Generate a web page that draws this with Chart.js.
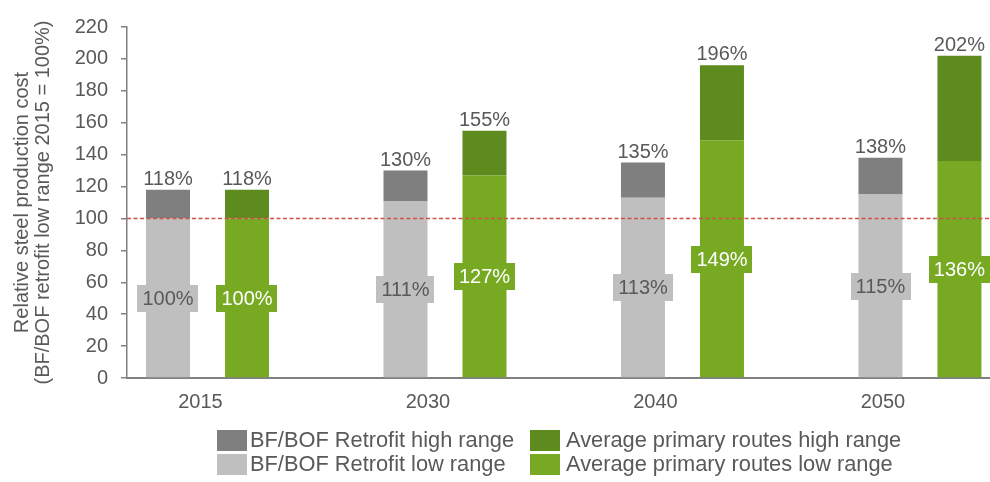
<!DOCTYPE html>
<html><head><meta charset="utf-8">
<script src="https://cdn.jsdelivr.net/npm/chart.js@4/dist/chart.umd.min.js"></script>
<style>
html,body{margin:0;padding:0;background:#fff;overflow:hidden}
#wrap{position:relative;width:990px;height:482px}
#legend{position:absolute;left:0;top:0;width:990px;height:482px;pointer-events:none;font-family:"Liberation Sans",Arial,sans-serif;font-size:21.8px;color:#595959}
.item{position:absolute;display:flex;align-items:center;white-space:nowrap;height:22px}
.sw{width:30px;height:21px;flex:none}
</style></head>
<body><div id="wrap"><canvas id="c"></canvas><div id="legend"></div></div>
<script>
// ---- data ----
const CATEGORIES = ['2015', '2030', '2040', '2050'];
const BF_LOW   = [100, 111, 113, 115];   // BF/BOF Retrofit low range (%)
const BF_HIGH  = [118, 130, 135, 138];   // BF/BOF Retrofit high range (%)
const AVG_LOW  = [100, 127, 149, 136];   // Average primary routes low range (%)
const AVG_HIGH = [118, 155, 196, 202];   // Average primary routes high range (%)
const Y_TICKS  = [0, 20, 40, 60, 80, 100, 120, 140, 160, 180, 200, 220];
const REFERENCE = 100;
const SERIES_NAMES = ['BF/BOF Retrofit low range', 'BF/BOF Retrofit high range',
                      'Average primary routes low range', 'Average primary routes high range'];

const COLORS = { bfLow: '#bfbfbf', bfHigh: '#7f7f7f', avgLow: '#77aa22', avgHigh: '#5e8b1d' };
const TEXT = '#595959';
const FONT = '"Liberation Sans", Arial, sans-serif';

const pts = arr => arr.map((v, i) => ({ x: i, y: v }));
const diff = (hi, lo) => hi.map((v, i) => v - lo[i]);

const datasets = [
  { label: SERIES_NAMES[0], data: pts(BF_LOW), stack: 'bf', backgroundColor: COLORS.bfLow },
  { label: SERIES_NAMES[1], data: pts(diff(BF_HIGH, BF_LOW)), stack: 'bf', backgroundColor: COLORS.bfHigh },
  { label: SERIES_NAMES[2], data: pts(AVG_LOW), stack: 'avg', backgroundColor: COLORS.avgLow },
  { label: SERIES_NAMES[3], data: pts(diff(AVG_HIGH, AVG_LOW)), stack: 'avg', backgroundColor: COLORS.avgHigh }
];

const X_MIN = -0.339, X_MAX = 3.295;
const LABEL_SHIFT = i => i * 0.958 - 0.03; // where the year labels sit in the reference

const refLine = {
  id: 'refLine',
  afterDatasetsDraw(chart) {
    const { ctx, chartArea, scales } = chart;
    const y = Math.round(scales.y.getPixelForValue(REFERENCE)) + 0.5;
    ctx.save();
    ctx.strokeStyle = '#d0504a';
    ctx.lineWidth = 1.3;
    ctx.setLineDash([4, 2.5]);
    ctx.beginPath();
    ctx.moveTo(chartArea.left, y);
    ctx.lineTo(chartArea.right, y);
    ctx.stroke();
    ctx.restore();
  }
};

const valueLabels = {
  id: 'valueLabels',
  afterDatasetsDraw(chart) {
    const ctx = chart.ctx, ys = chart.scales.y;
    ctx.save();
    ctx.font = '20px ' + FONT;
    ctx.textAlign = 'center';
    const groups = [
      { idx: 0, low: BF_LOW, high: BF_HIGH, box: COLORS.bfLow, txt: TEXT },
      { idx: 2, low: AVG_LOW, high: AVG_HIGH, box: COLORS.avgLow, txt: '#ffffff' }
    ];
    groups.forEach(g => {
      chart.getDatasetMeta(g.idx).data.forEach((bar, i) => {
        const x = bar.x;
        ctx.fillStyle = TEXT;
        ctx.textBaseline = 'alphabetic';
        ctx.fillText(g.high[i] + '%', x, ys.getPixelForValue(g.high[i]) - 5);
        const t = g.low[i] + '%';
        const cy = ys.getPixelForValue(g.low[i] / 2);
        const w = ctx.measureText(t).width + 10;
        ctx.fillStyle = g.box;
        ctx.fillRect(Math.round(x - w / 2), Math.round(cy - 13.5), Math.round(w), 27);
        ctx.fillStyle = g.txt;
        ctx.textBaseline = 'middle';
        ctx.fillText(t, x, cy + 1);
      });
    });
    ctx.restore();
  }
};

new Chart(document.getElementById('c'), {
  type: 'bar',
  data: { datasets },
  options: {
    responsive: true,
    maintainAspectRatio: false,
    animation: false,
    categoryPercentage: 0.6653,
    barPercentage: 0.557,
    layout: { padding: { top: 27, left: 0, right: 0, bottom: 0 } },
    plugins: { legend: { display: false }, tooltip: { enabled: false } },
    scales: {
      x: {
        type: 'linear', display: false, offset: false, min: X_MIN, max: X_MAX,
        grid: { offset: false },
        afterBuildTicks: s => { s.ticks = CATEGORIES.map((c, i) => ({ value: i })); }
      },
      x2: {
        type: 'linear', position: 'bottom', offset: false, min: X_MIN, max: X_MAX,
        grid: { display: false, offset: false },
        border: { display: true, color: '#808080', width: 2 },
        afterBuildTicks: s => { s.ticks = CATEGORIES.map((c, i) => ({ value: LABEL_SHIFT(i) })); },
        ticks: {
          autoSkip: false, maxRotation: 0, padding: 4,
          color: TEXT, font: { family: FONT, size: 20 },
          callback: (v, i) => CATEGORIES[i]
        },
        afterFit: s => { s.height = 104; }
      },
      y: {
        stacked: true, min: 0, max: 220,
        afterBuildTicks: s => { s.ticks = Y_TICKS.map(v => ({ value: v })); },
        grid: { drawOnChartArea: false, drawTicks: true, tickLength: 6, color: '#808080', lineWidth: 1.5 },
        border: { display: true, color: '#808080', width: 1.5 },
        ticks: { color: TEXT, font: { family: FONT, size: 20 }, padding: 13 },
        title: {
          display: true,
          text: ['Relative steel production cost', '(BF/BOF retrofit low range 2015 = 100%)'],
          color: TEXT, font: { family: FONT, size: 20, lineHeight: 1.05 },
          padding: { top: 12, bottom: 0 }
        },
        afterFit: s => { s.width = 127; }
      }
    }
  },
  plugins: [refLine, valueLabels]
});

// HTML legend in the reference's 2x2 arrangement
const legendItems = [
  { name: SERIES_NAMES[1], color: COLORS.bfHigh, left: 217, top: 429, gap: 3 },
  { name: SERIES_NAMES[3], color: COLORS.avgHigh, left: 530, top: 429, gap: 6 },
  { name: SERIES_NAMES[0], color: COLORS.bfLow, left: 217, top: 453, gap: 3 },
  { name: SERIES_NAMES[2], color: COLORS.avgLow, left: 530, top: 453, gap: 6 }
];
const lg = document.getElementById('legend');
legendItems.forEach(it => {
  const d = document.createElement('div');
  d.className = 'item';
  d.style.left = it.left + 'px';
  d.style.top = it.top + 'px';
  d.innerHTML = '<span class="sw" style="background:' + it.color + ';margin-right:' + it.gap + 'px"></span><span>' + it.name + '</span>';
  lg.appendChild(d);
});
</script>
</body></html>
